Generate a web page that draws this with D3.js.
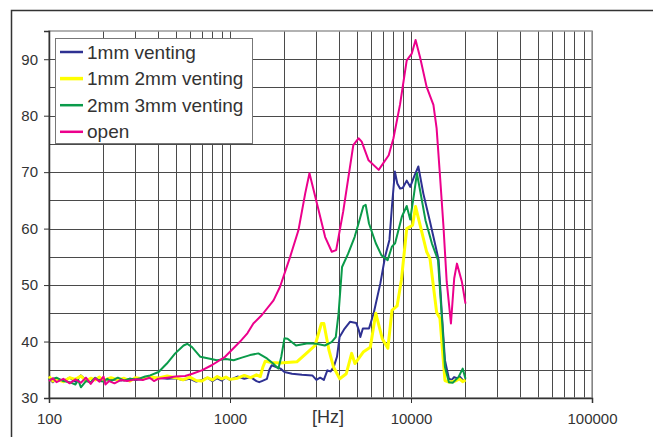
<!DOCTYPE html>
<html>
<head>
<meta charset="utf-8">
<script src="https://cdn.jsdelivr.net/npm/d3@7"></script>
<style>
  html, body { margin: 0; padding: 0; background: #fff; }
  svg { display: block; font-family: "Liberation Sans", Arial, sans-serif; }
</style>
</head>
<body>
<div id="chart"></div>
<script>
// [Hz, level] pairs
const venting1mm = [
  [100,33.5],[105,32.8],[110,33.4],[120,33.0],[130,33.6],[140,32.9],[150,34.0],[160,33.2],[170,32.7],[180,33.5],
  [200,33.0],[220,33.3],[250,33.1],[280,33.4],[300,33.2],[350,33.5],[400,33.6],[450,33.4],[500,33.5],[550,33.2],
  [600,33.4],[650,32.9],[700,33.2],[750,33.6],[800,33.0],[850,33.5],[900,33.1],[950,33.6],[1000,33.2],[1100,33.8],
  [1200,33.4],[1300,33.7],[1400,33.0],[1450,32.8],[1500,33.0],[1600,33.4],[1650,35.0],[1700,35.8],[1800,35.5],
  [1900,35.2],[2000,34.6],[2200,34.3],[2500,34.1],[2850,34.0],[3000,33.2],[3150,33.6],[3300,33.2],[3450,34.9],
  [3600,34.7],[3750,35.6],[3900,37.3],[4030,40.8],[4300,42.3],[4600,43.5],[4980,43.3],[5150,42.0],[5250,40.8],
  [5420,42.3],[5860,42.3],[6220,45.0],[6770,50.3],[7200,55.1],[7600,58.0],[7850,64.0],[8150,70.1],[8400,68.0],
  [8700,67.1],[9000,67.2],[9470,68.5],[9900,67.4],[10400,69.2],[10980,71.0],[11700,66.2],[12680,61.5],[13690,56.8],
  [14200,54.5],[14800,45.0],[15400,36.7],[16200,33.4],[16800,33.2],[17300,33.7],[18000,33.5],[18600,33.8],
  [19300,33.2],[20000,33.1]
];

const venting1mm2mm = [
  [100,33.8],[105,33.0],[110,33.3],[120,32.9],[130,33.6],[140,33.3],[150,33.9],[160,33.0],[170,33.5],[180,33.2],
  [190,33.7],[200,33.1],[220,33.6],[240,33.2],[260,33.5],[280,33.0],[300,33.6],[330,33.4],[360,33.8],[400,33.5],
  [450,33.9],[500,33.6],[550,33.2],[600,33.7],[650,33.1],[700,33.0],[750,33.6],[800,33.2],[850,33.8],[900,33.4],
  [950,33.7],[1000,33.3],[1100,33.5],[1200,34.0],[1300,33.6],[1400,34.1],[1470,33.8],[1520,35.5],[1565,36.5],
  [1700,36.3],[1890,36.2],[2340,36.4],[2660,38.0],[2950,39.3],[3200,43.2],[3300,43.2],[3520,38.5],[3730,35.5],
  [4040,33.4],[4390,34.3],[4700,37.9],[4900,36.1],[5470,38.2],[5960,39.0],[6390,45.0],[6940,40.5],[7450,38.8],
  [7850,45.5],[8380,46.3],[8850,50.9],[9470,60.0],[10200,60.6],[10600,63.9],[11230,60.6],[12200,55.9],[12730,54.7],
  [13850,45.2],[14450,44.1],[15400,33.1],[16200,32.8],[17500,33.0],[18500,33.4],[19300,32.9],[20000,33.2]
];

const venting2mm3mm = [
  [100,33.2],[110,33.6],[120,33.0],[130,32.8],[140,32.4],[145,33.2],[150,31.9],[160,33.0],[170,32.8],[180,33.6],
  [190,33.0],[200,32.9],[210,33.4],[220,33.0],[240,33.6],[260,33.1],[280,33.4],[300,33.3],[320,33.5],[340,33.8],
  [362,34.0],[403,34.6],[448,36.1],[498,37.9],[554,39.3],[580,39.6],[617,39.0],[686,37.3],[763,37.0],[846,36.7],
  [950,36.9],[1048,36.7],[1150,37.1],[1290,37.6],[1434,37.9],[1600,37.0],[1730,36.1],[1850,35.2],[1920,37.3],
  [2000,40.6],[2080,40.5],[2316,39.3],[2700,39.7],[3000,39.6],[3340,39.3],[3640,39.9],[3840,40.8],[3980,45.0],
  [4160,53.2],[4500,55.6],[4880,58.5],[5130,60.9],[5460,64.0],[5620,64.2],[5860,60.9],[6390,57.4],[6860,55.3],
  [7430,54.4],[7840,56.8],[8170,57.4],[8900,62.1],[9470,64.0],[9900,61.6],[10400,66.2],[10780,69.8],[11220,66.8],
  [12020,61.5],[13040,57.4],[14100,54.4],[14800,44.4],[15400,35.5],[16200,32.8],[17000,32.7],[18300,33.7],
  [19300,35.2],[20000,33.4]
];

const open = [
  [100,33.0],[105,33.5],[110,32.8],[120,33.4],[130,32.6],[140,33.3],[150,32.7],[160,33.6],[170,32.5],[180,33.5],
  [190,32.9],[200,33.8],[205,32.4],[215,33.0],[230,32.6],[250,33.2],[270,33.0],[300,33.3],[330,33.2],[360,33.6],
  [380,33.0],[400,33.4],[450,33.6],[500,33.8],[565,33.9],[620,34.3],[698,34.9],[792,35.8],[939,37.3],[1000,38.2],
  [1137,40.0],[1250,41.5],[1346,43.2],[1500,44.7],[1740,47.3],[1890,49.7],[2149,55.0],[2388,59.7],[2602,66.2],
  [2748,69.8],[3020,64.5],[3355,58.5],[3650,55.9],[3860,56.2],[4040,59.7],[4220,63.0],[4800,74.8],[5130,76.0],
  [5340,75.4],[5830,72.1],[6630,70.4],[7530,73.0],[8000,76.0],[8700,82.0],[9470,89.8],[10100,91.0],[10600,93.4],
  [11230,90.3],[12200,85.1],[13300,81.9],[13850,77.8],[14450,69.5],[15100,60.6],[15750,50.6],[16620,43.2],
  [17330,51.2],[17940,53.8],[19100,50.6],[20000,46.7]
];

const seriesNames = ["1mm venting", "1mm 2mm venting", "2mm 3mm venting", "open"];
const seriesData = [venting1mm, venting1mm2mm, venting2mm3mm, open];
const seriesColors = ["#2e3192", "#ffff00", "#0a9b4a", "#ec008c"];
const seriesWidths = [2, 3, 2, 2];

const yTicks = [30, 40, 50, 60, 70, 80, 90];
const xTicks = [100, 1000, 10000, 100000];
const xLabel = "[Hz]";

const width = 653, height = 437;
const margin = { top: 31, right: 61, bottom: 39, left: 49 };

const svg = d3.select("#chart").append("svg")
    .attr("width", width)
    .attr("height", height);

// outer chart frame (runs off the right and bottom edges)
svg.append("path")
    .attr("d", `M11.5,${height + 5}V10.5H${width + 5}`)
    .attr("fill", "none")
    .attr("stroke", "#333")
    .attr("stroke-width", 1.5);

const x = d3.scaleLog()
    .domain([100, 100000])
    .range([margin.left, width - margin.right]);

const y = d3.scaleLinear()
    .domain([30, 95])
    .range([height - margin.bottom, margin.top]);

// grid
const vLines = [];
for (let p = 100; p < 100000; p *= 10) {
    for (let k = 1; k <= 9; k++) vLines.push(p * k);
}
vLines.push(100000);

svg.append("g")
    .selectAll("line")
    .data(vLines)
    .join("line")
    .attr("x1", d => Math.round(x(d)) + 0.5)
    .attr("x2", d => Math.round(x(d)) + 0.5)
    .attr("y1", y(95))
    .attr("y2", y(30))
    .attr("stroke", "#4a4a4a")
    .attr("stroke-width", 1);

svg.append("g")
    .selectAll("line")
    .data(d3.range(35, 95, 5))
    .join("line")
    .attr("x1", x(100))
    .attr("x2", x(100000))
    .attr("y1", d => Math.round(y(d)) + 0.5)
    .attr("y2", d => Math.round(y(d)) + 0.5)
    .attr("stroke", "#4a4a4a")
    .attr("stroke-width", 1);

// plot frame
svg.append("rect")
    .attr("x", x(100))
    .attr("y", y(95))
    .attr("width", x(100000) - x(100))
    .attr("height", y(30) - y(95))
    .attr("fill", "none")
    .attr("stroke", "#999")
    .attr("stroke-width", 1.5);

// axes
const yAxis = svg.append("g")
    .attr("transform", `translate(${x(100)},0)`)
    .call(d3.axisLeft(y).tickValues(yTicks).tickSize(5).tickPadding(6));
const xAxis = svg.append("g")
    .attr("transform", `translate(0,${y(30)})`)
    .call(d3.axisBottom(x).tickValues(xTicks).tickFormat(d3.format("d")).tickSize(5).tickPadding(10));

[yAxis, xAxis].forEach(a => {
    a.select(".domain").attr("stroke", "#333").attr("stroke-width", 1.5);
    a.selectAll(".tick line").attr("stroke", "#333");
    a.selectAll("text")
        .attr("fill", "#333")
        .style("font-size", "15px")
        .style("font-family", "'Liberation Sans', Arial, sans-serif");
});

svg.append("text")
    .attr("x", 328)
    .attr("y", 423)
    .attr("text-anchor", "middle")
    .attr("fill", "#333")
    .style("font-size", "18px")
    .text(xLabel);

// series
const line = d3.line()
    .x(d => x(d[0]))
    .y(d => y(d[1]));

svg.append("g")
    .selectAll("path")
    .data(seriesData)
    .join("path")
    .attr("d", line)
    .attr("fill", "none")
    .attr("stroke", (d, i) => seriesColors[i])
    .attr("stroke-width", (d, i) => seriesWidths[i])
    .attr("stroke-linejoin", "round");

// legend
const legend = svg.append("g");
legend.append("rect")
    .attr("x", 55.5)
    .attr("y", 38.5)
    .attr("width", 197)
    .attr("height", 105)
    .attr("fill", "#fff")
    .attr("stroke", "#777")
    .attr("stroke-width", 1);

const rows = legend.selectAll("g.row")
    .data(seriesNames)
    .join("g")
    .attr("class", "row")
    .attr("transform", (d, i) => `translate(0,${52 + i * 26.6})`);

rows.append("line")
    .attr("x1", 60)
    .attr("x2", 83)
    .attr("stroke", (d, i) => seriesColors[i])
    .attr("stroke-width", (d, i) => seriesWidths[i] + 0.5);

rows.append("text")
    .attr("x", 87)
    .attr("dy", "0.35em")
    .attr("fill", "#333")
    .style("font-size", "19px")
    .text(d => d);
</script>
</body>
</html>
